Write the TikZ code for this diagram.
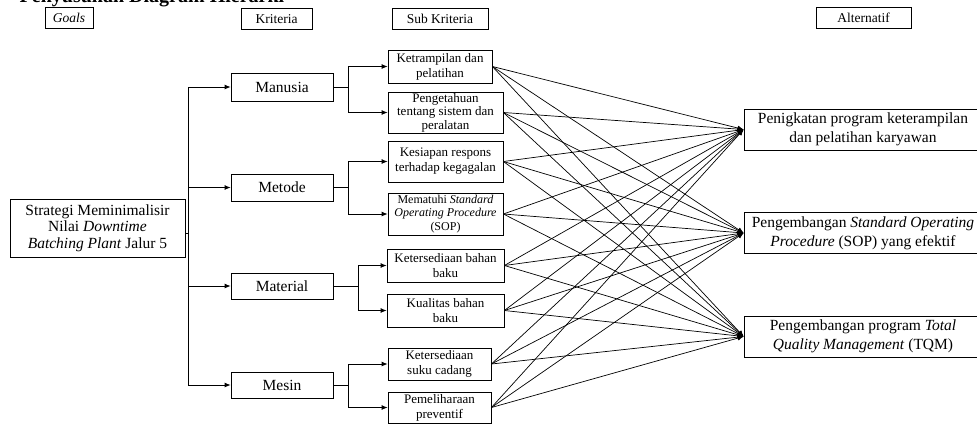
\documentclass[tikz,border=0pt]{standalone}
\usepackage{fontspec}
\setmainfont{Liberation Serif}
\usetikzlibrary{arrows.meta}

\begin{document}
\begin{tikzpicture}[x=1pt, y=-1pt, line width=.8pt, >={Latex[length=6pt,width=5pt]},
    box/.style={draw, inner sep=0, align=center},
    hdr/.style={box, font=\fontsize{13.5}{15}\selectfont, minimum height=21},
    krit/.style={box, font=\fontsize{15.5}{17}\selectfont, minimum width=102},
    subk/.style={box, font=\fontsize{13}{15}\selectfont},
    alt/.style={box, font=\fontsize{15.5}{19}\selectfont, minimum width=238, minimum height=41}]
\useasboundingbox (0,0) rectangle (977,424);
\clip (0,0) rectangle (977,424);

\node[anchor=base west, font=\fontsize{20}{22}\selectfont\bfseries] (judul) at (16,2) {Penyusunan Diagram Hierarki};

% header
\node[hdr, minimum width=48] (hgoal) at (69,17.5) {\textit{Goals}};
\node[hdr, minimum width=71] (hkrit) at (276.5,19) {Kriteria};
\node[hdr, minimum width=96] (hsub) at (440,18.5) {Sub Kriteria};
\node[hdr, minimum width=95] (halt) at (863.5,17.5) {Alternatif};

% goal
\node[box, font=\fontsize{15.5}{16.5}\selectfont, minimum width=175, minimum height=58] (goal) at (97.5,228)
    {Strategi Meminimalisir\\Nilai \textit{Downtime}\\\textit{Batching Plant} Jalur 5};

% kriteria
\node[krit, minimum height=28] (man) at (282,87) {Manusia};
\node[krit, minimum height=27] (met) at (282,187.5) {Metode};
\node[krit, minimum height=26] (mat) at (282,286) {Material};
\node[krit, minimum height=26] (mes) at (282,385) {Mesin};

% sub kriteria
\node[subk, minimum width=104, minimum height=33] (s1) at (440,66.5) {Ketrampilan dan\\pelatihan};
\node[subk, font=\fontsize{13}{13.5}\selectfont, minimum width=115, minimum height=41] (s2) at (445.5,112.5) {Pengetahuan\\tentang sistem dan\\peralatan};
\node[subk, minimum width=115, minimum height=41] (s3) at (445.5,161.5) {Kesiapan respons\\terhadap kegagalan};
\node[subk, font=\fontsize{12}{13.5}\selectfont, minimum width=115, minimum height=42] (s4) at (445.5,214) {Mematuhi \textit{Standard}\\\textit{Operating Procedure}\\(SOP)};
\node[subk, minimum width=117, minimum height=33] (s5) at (445.5,265.5) {Ketersediaan bahan\\baku};
\node[subk, minimum width=117, minimum height=33] (s6) at (445.5,310.5) {Kualitas bahan\\baku};
\node[subk, minimum width=103, minimum height=32] (s7) at (439.5,364) {Ketersediaan\\suku cadang};
\node[subk, minimum width=103, minimum height=31] (s8) at (439.5,407.5) {Pemeliharaan\\preventif};

% alternatif
\node[alt] (a1) at (863,129.5) {Penigkatan program keterampilan\\dan pelatihan karyawan};
\node[alt] (a2) at (863,233) {Pengembangan \textit{Standard Operating}\\\textit{Procedure} (SOP) yang efektif};
\node[alt] (a3) at (863,336.5) {Pengembangan program \textit{Total}\\\textit{Quality Management} (TQM)};

% goal ke kriteria
\coordinate (trunk) at (188,233);
\draw (trunk -| goal.east) -- (trunk);
\foreach \k in {man,met,mat,mes}
{
    \draw[->] (trunk) |- (\k.west);
}

% kriteria ke sub kriteria
\draw[->] (man.east) -- ++(15,0) |- (s1.west);
\draw[->] (man.east) -- ++(15,0) |- (s2.west);
\draw[->] (met.east) -- ++(15,0) |- (s3.west);
\draw[->] (met.east) -- ++(15,0) |- (s4.west);
\draw[->] (mat.east) -- ++(25,0) |- (s5.west);
\draw[->] (mat.east) -- ++(25,0) |- (s6.west);
\draw[->] (mes.east) -- ++(15,0) |- (s7.west);
\draw[->] (mes.east) -- ++(15,0) |- (s8.west);

% sub kriteria ke alternatif
\foreach \s in {s1,s2,s3,s4,s5,s6,s7,s8}
{
    \foreach \a in {a1,a2,a3}
        \draw[->, line width=.7pt] (\s.east) -- (\a.west);
}

\end{tikzpicture}
\end{document}
